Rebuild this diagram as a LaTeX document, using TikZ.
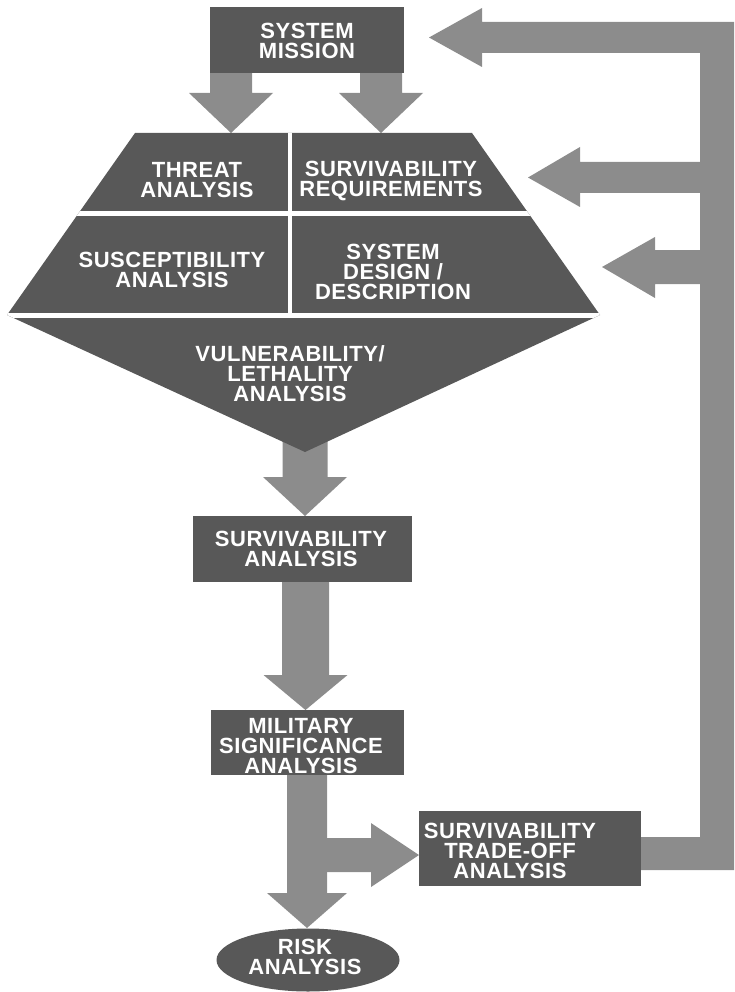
\documentclass[tikz,border=0pt]{standalone}
\usepackage{fontspec}
\setmainfont{Liberation Sans}[LetterSpace=2.5]
\usetikzlibrary{shapes.geometric}
\definecolor{boxgray}{RGB}{88,88,88}
\definecolor{arrowgray}{RGB}{140,140,140}
% down block arrow: centre x, start y, head-base y, tip y, shaft half width, head half width
\newcommand\DownBlock[6]{%
  \fill[arrowgray] ({#1-#5},#2) -- ({#1+#5},#2) -- ({#1+#5},#3) -- ({#1+#6},#3)
    -- (#1,#4) -- ({#1-#6},#3) -- ({#1-#5},#3) -- cycle;}
\begin{document}
\begin{tikzpicture}[x=1pt,y=-1pt,
  box/.style={fill=boxgray, draw=none, inner sep=0pt},
  txt/.style={text=white, font=\fontsize{22}{20}\selectfont\bfseries, align=center, inner sep=0pt},
  divider/.style={draw=white, line width=4.5pt}]
\useasboundingbox (0,0) rectangle (734,992);

% ---- block arrows (behind the boxes)
\DownBlock{231}{60}{93}{133}{21}{42}
\DownBlock{381}{60}{93}{133}{21}{42}
\DownBlock{305}{440}{477}{516}{22.5}{42}
\DownBlock{305.5}{575}{675}{710}{23.5}{42}
\DownBlock{307}{770}{893}{928}{20}{40}
% branch to trade-off
\fill[arrowgray] (300,838) -- (371,838) -- (371,823) -- (419,855) -- (371,887)
  -- (371,872) -- (300,872) -- cycle;
% feedback loop
\fill[arrowgray] (429,37.5) -- (482,8) -- (482,22) -- (734,22) -- (734,870)
  -- (630,870) -- (630,837) -- (700,837) -- (700,284) -- (655,284) -- (655,298)
  -- (602,267) -- (655,237) -- (655,250) -- (700,250) -- (700,193) -- (580,193)
  -- (580,207) -- (528,177.5) -- (580,147) -- (580,162) -- (700,162) -- (700,53)
  -- (482,53) -- (482,67) -- cycle;

% ---- boxes
\node[box, minimum width=194pt, minimum height=66pt] (mission) at (307,40) {};
\node[box, minimum width=219pt, minimum height=66pt] (sa) at (302.5,549) {};
\node[box, minimum width=193pt, minimum height=65pt] (msa) at (307.5,742.5) {};
\node[box, minimum width=222pt, minimum height=75pt] (trade) at (530,848.5) {};
\node[box, ellipse, minimum width=183pt, minimum height=63pt] (risk) at (308,960) {};

% ---- trapezoid / pentagon block
\fill[boxgray] (135,133) -- (472,133) -- (600,315) -- (305,452) -- (7,315) -- cycle;
\begin{scope}
  \clip (135,133) -- (472,133) -- (600,315) -- (305,452) -- (7,315) -- cycle;
  \draw[divider] (0,213.5) -- (620,213.5);
  \draw[divider] (0,315.5) -- (620,315.5);
  \draw[divider] (290,130) -- (290,318);
\end{scope}

% ---- texts
\node[txt] (missiontxt) at (307,40.5) {SYSTEM\\MISSION};
\node[txt] (threat) at (197,180.5) {THREAT\\ANALYSIS};
\node[txt] (survreq) at (391,180.5) {SURVIVABILITY\\REQUIREMENTS};
\node[txt] (suscept) at (172,270) {SUSCEPTIBILITY\\ANALYSIS};
\node[txt] (sysdesign) at (393,272) {SYSTEM\\DESIGN /\\DESCRIPTION};
\node[txt] (vuln) at (290,374) {VULNERABILITY/\\LETHALITY\\ANALYSIS};
\node[txt] (satxt) at (301,548.5) {SURVIVABILITY\\ANALYSIS};
\node[txt] (msatxt) at (301,746) {MILITARY\\SIGNIFICANCE\\ANALYSIS};
\node[txt] (tradetxt) at (510,851) {SURVIVABILITY\\TRADE-OFF\\ANALYSIS};
\node[txt] (risktxt) at (305,957) {RISK\\ANALYSIS};
\end{tikzpicture}
\end{document}
